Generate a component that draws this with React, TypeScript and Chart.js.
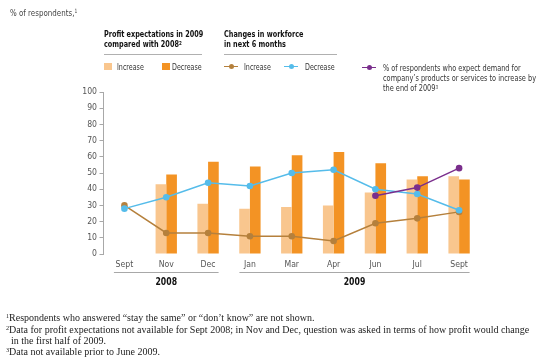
import React, { useEffect, useRef } from "react";
import { Chart, registerables } from "chart.js";

Chart.register(...registerables);

const categories = ["Sept", "Nov", "Dec", "Jan", "Mar", "Apr", "Jun", "Jul", "Sept"];
const profitIncrease = [null, 43, 31, 28, 29, 30, 38, 46, 48];
const profitDecrease = [null, 49, 57, 54, 61, 63, 56, 48, 46];
const workforceIncrease = [30, 13, 13, 11, 11, 8, 19, 22, 26];
const workforceDecrease = [28, 35, 44, 42, 50, 52, 40, 37, 27];
const demandIncrease = [null, null, null, null, null, null, 36, 41, 53];
const yearGroups = [
  { label: "2008", from: 0, to: 2 },
  { label: "2009", from: 3, to: 8 },
];

const LIGHT = "#F9C68E";
const DARK = "#F39324";
const BROWN = "#B5803C";
const BLUE = "#55BCEA";
const PURPLE = "#7A2E8C";

const SANS =
  "'Liberation Sans Narrow', 'DejaVu Sans Condensed', 'Arial Narrow', 'Liberation Sans', sans-serif";
const SERIF = "'Liberation Serif', 'DejaVu Serif', serif";

const yearPlugin = {
  id: "yearGroups",
  afterDraw(chart: any) {
    const x = chart.scales.x;
    const ctx = chart.ctx;
    const bottom = chart.chartArea.bottom;
    ctx.save();
    yearGroups.forEach((g) => {
      const x1 = x.getPixelForValue(g.from) - 10.5;
      const x2 = x.getPixelForValue(g.to) + 10.5;
      ctx.strokeStyle = "#a8a8a8";
      ctx.lineWidth = 1;
      ctx.beginPath();
      ctx.moveTo(x1, bottom + 18.5);
      ctx.lineTo(x2, bottom + 18.5);
      ctx.stroke();
      ctx.save();
      const cx = (x1 + x2) / 2;
      ctx.translate(cx, bottom + 28);
      ctx.scale(0.86, 1);
      ctx.fillStyle = "#111";
      ctx.font = "bold 10px " + SANS;
      ctx.textAlign = "center";
      ctx.textBaseline = "middle";
      ctx.fillText(g.label, 0, 0);
      ctx.restore();
    });
    ctx.restore();
  },
};

function Sup({ children }: { children: any }) {
  return (
    <span style={{ fontSize: "0.62em", position: "relative", top: "-0.45em" }}>{children}</span>
  );
}

function LineKey({ left, top, color }: { left: number; top: number; color: string }) {
  return (
    <div style={{ position: "absolute", left, top, width: 14, height: 6 }}>
      <div style={{ position: "absolute", left: 0, top: 2, width: 14, height: 1.5, background: color }} />
      <div
        style={{
          position: "absolute",
          left: 4.5,
          top: 0,
          width: 5.5,
          height: 5.5,
          borderRadius: "50%",
          background: color,
        }}
      />
    </div>
  );
}

function Txt({ left, top, style, children, sx = 0.82 }: any) {
  return (
    <div
      style={{
        position: "absolute",
        left,
        top,
        fontFamily: SANS,
        fontSize: 8.6,
        color: "#333",
        whiteSpace: "nowrap",
        lineHeight: "12px",
        transform: `scaleX(${sx})`,
        transformOrigin: "left top",
        ...style,
      }}
    >
      {children}
    </div>
  );
}

export default function App() {
  const ref = useRef<HTMLCanvasElement | null>(null);

  useEffect(() => {
    if (!ref.current) return;
    const chart = new Chart(ref.current, {
      type: "bar",
      data: {
        labels: categories,
        datasets: [
          {
            type: "line",
            label: "Demand increase",
            data: demandIncrease as any,
            borderColor: PURPLE,
            backgroundColor: PURPLE,
            borderWidth: 1.5,
            pointRadius: 3.3,
            pointBorderWidth: 0,
            order: 0,
          },
          {
            type: "line",
            label: "Workforce decrease",
            data: workforceDecrease,
            borderColor: BLUE,
            backgroundColor: BLUE,
            borderWidth: 1.5,
            pointRadius: 3.3,
            pointBorderWidth: 0,
            order: 1,
          },
          {
            type: "line",
            label: "Workforce increase",
            data: workforceIncrease,
            borderColor: BROWN,
            backgroundColor: BROWN,
            borderWidth: 1.5,
            pointRadius: 3.3,
            pointBorderWidth: 0,
            order: 1,
          },
          {
            type: "bar",
            label: "Profit increase",
            data: profitIncrease as any,
            backgroundColor: LIGHT,
            categoryPercentage: 0.51,
            barPercentage: 1,
            order: 3,
          },
          {
            type: "bar",
            label: "Profit decrease",
            data: profitDecrease as any,
            backgroundColor: DARK,
            categoryPercentage: 0.51,
            barPercentage: 1,
            order: 3,
          },
        ],
      },
      options: {
        responsive: false,
        animation: false,
        devicePixelRatio: 1,
        layout: { padding: { top: 92, right: 65, bottom: 0, left: 0 } },
        plugins: { legend: { display: false }, tooltip: { enabled: false } },
        scales: {
          x: {
            grid: { display: false, drawTicks: false },
            border: { display: false },
            ticks: { color: "#555", font: { family: SANS, size: 8.6 }, padding: 5.5 },
            afterFit: (s: any) => {
              s.height = 109;
            },
          },
          y: {
            min: 0,
            max: 100,
            ticks: { stepSize: 10, color: "#555", font: { family: SANS, size: 8.6 }, padding: 2.5 },
            grid: { drawOnChartArea: false, drawTicks: true, tickLength: 4, color: "#a8a8a8" },
            border: { display: true, color: "#a8a8a8", width: 1 },
            afterFit: (s: any) => {
              s.width = 103.5;
            },
          },
        },
      },
      plugins: [yearPlugin],
    });
    return () => chart.destroy();
  }, []);

  const head: any = { fontWeight: "bold", color: "#111", lineHeight: "10px" };
  const foot: any = {
    position: "absolute",
    left: 6,
    fontFamily: SERIF,
    fontSize: 10,
    color: "#222",
    whiteSpace: "nowrap",
    lineHeight: "10.6px",
  };

  return (
    <div style={{ position: "absolute", left: 0, top: 0, width: 545, height: 363, background: "#fff" }}>
      <canvas
        ref={ref}
        width={545}
        height={363}
        style={{ position: "absolute", left: 0, top: 0, width: 545, height: 363 }}
      />
      <Txt left={10} top={7} sx={0.85} style={{ fontSize: 9.3, color: "#444" }}>
        % of respondents,<Sup>1</Sup>
      </Txt>

      <Txt left={104} top={29} sx={0.84} style={head}>
        Profit expectations in 2009
        <br />
        compared with 2008<Sup>2</Sup>
      </Txt>
      <div style={{ position: "absolute", left: 104, top: 54, width: 98, height: 1, background: "#b0b0b0" }} />
      <Txt left={224} top={29} sx={0.84} style={head}>
        Changes in workforce
        <br />
        in next 6 months
      </Txt>
      <div style={{ position: "absolute", left: 224, top: 54, width: 113, height: 1, background: "#b0b0b0" }} />

      <div style={{ position: "absolute", left: 104, top: 62.5, width: 8, height: 7.5, background: LIGHT }} />
      <Txt left={117} top={60.5}>Increase</Txt>
      <div style={{ position: "absolute", left: 162, top: 62.5, width: 7.5, height: 7.5, background: DARK }} />
      <Txt left={172} top={60.5}>Decrease</Txt>

      <LineKey left={224} top={63.5} color={BROWN} />
      <Txt left={244} top={60.5}>Increase</Txt>
      <LineKey left={284} top={63.5} color={BLUE} />
      <Txt left={305} top={60.5}>Decrease</Txt>

      <LineKey left={362} top={64.5} color={PURPLE} />
      <Txt left={382.5} top={63} sx={0.85} style={{ lineHeight: "10px" }}>
        % of respondents who expect demand for
        <br />
        company’s products or services to increase by
        <br />
        the end of 2009<Sup>3</Sup>
      </Txt>

      <div style={{ ...foot, top: 313 }}>
        <Sup>1</Sup>Respondents who answered “stay the same” or “don’t know” are not shown.
        <br />
        <Sup>2</Sup>Data for profit expectations not available for Sept 2008; in Nov and Dec, question was asked in
        terms of how profit would change
        <br />
        <span style={{ paddingLeft: 5 }}>in the first half of 2009.</span>
        <br />
        <Sup>3</Sup>Data not available prior to June 2009.
      </div>
    </div>
  );
}
